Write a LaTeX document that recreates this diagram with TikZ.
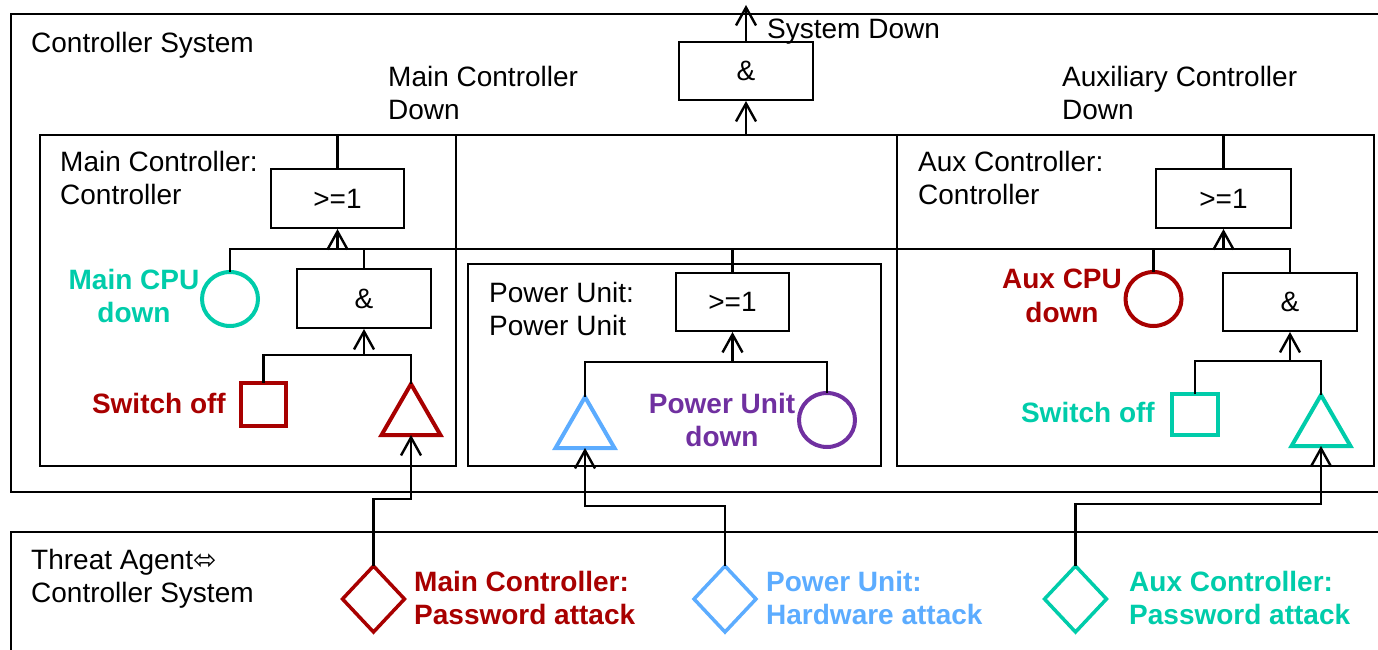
\documentclass[tikz,border=0pt]{standalone}
\usepackage{fontspec}
\setmainfont{Liberation Sans}
\newfontfamily\symfont{DejaVu Sans}
\usetikzlibrary{shapes.geometric,arrows.meta,calc}
\definecolor{dred}{RGB}{168,0,0}
\definecolor{mteal}{RGB}{0,204,170}
\definecolor{lblue}{RGB}{92,172,255}
\definecolor{purp}{RGB}{112,48,160}
\tikzset{
 ln/.style={line width=2.4pt},
 arr/.style={ln,-{Straight Barb[length=18pt,width=20pt]}},
 gate/.style={draw,line width=2pt,rectangle,inner sep=0pt,font=\fontsize{28}{33.5}\selectfont},
 cont/.style={draw,line width=2pt,rectangle,inner sep=0pt},
 txt/.style={inner sep=0pt,anchor=north west,align=left,font=\fontsize{28}{33.5}\selectfont},
 btxt/.style={inner sep=0pt,align=center,font=\fontsize{28}{33.5}\selectfont\bfseries},
 circ/.style={ellipse,draw,line width=4pt,minimum width=56pt,minimum height=54pt,inner sep=0pt,outer sep=0pt},
 sq/.style={rectangle,draw,line width=4pt,inner sep=0pt,outer sep=0pt},
 tri/.style={regular polygon,regular polygon sides=3,draw,line width=4pt,minimum size=68pt,inner sep=0pt,outer sep=0pt},
 dia/.style={diamond,draw,line width=3.5pt,minimum width=62pt,minimum height=66pt,inner sep=0pt,outer sep=0pt},
}
\begin{document}
\begin{tikzpicture}[x=1pt,y=-1pt]
\useasboundingbox (0,0) rectangle (1378,650);
% outer frames
\draw[line width=2pt] (1390,14) -| (11,492) -- (1390,492);
\draw[line width=2pt] (1390,532) -| (11,660);
% containers
\node[cont,minimum width=416pt,minimum height=331pt] (mcbox) at (248,300.5) {};
\node[cont,minimum width=413pt,minimum height=202pt] (pubox) at (674.5,365) {};
\node[cont,minimum width=477pt,minimum height=331pt] (acbox) at (1135.5,300.5) {};
% gates
\node[gate,minimum width=134pt,minimum height=58pt] (topand) at (746,71) {\&};
\node[gate,minimum width=133pt,minimum height=59pt] (mor) at (337.5,198.5) {>=1};
\node[gate,minimum width=135pt,minimum height=59pt] (aor) at (1223.5,198.5) {>=1};
\node[gate,minimum width=134pt,minimum height=59pt] (mand) at (364,298.5) {\&};
\node[gate,minimum width=113pt,minimum height=58pt] (por) at (732.5,302) {>=1};
\node[gate,minimum width=134pt,minimum height=58pt] (aand) at (1290,302) {\&};
% events
\node[circ,draw=mteal] (mcpu) at (230,299) {};
\node[sq,draw=dred,minimum width=45pt,minimum height=43pt] (msw) at (263.5,404.5) {};
\node[tri,draw=dred] (mtri) at (411,418) {};
\node[tri,draw=lblue] (ptri) at (585,431) {};
\node[circ,draw=purp] (pcirc) at (827,420) {};
\node[circ,draw=dred] (acpu) at (1153.5,299) {};
\node[sq,draw=mteal,minimum width=46pt,minimum height=41pt] (asw) at (1195,414.5) {};
\node[tri,draw=mteal] (atri) at (1321,429) {};
\node[dia,draw=dred] (mdia) at (373.5,599) {};
\node[dia,draw=lblue] (pdia) at (725,599) {};
\node[dia,draw=mteal] (adia) at (1075.5,599) {};
% texts
\node[txt] (tcs) at (31,32) {Controller System};
\node[txt] (tmcd) at (388,66) {Main Controller\\Down};
\node[txt] (tsd) at (767,19) {System Down};
\node[txt] (tacd) at (1062,66) {Auxiliary Controller\\Down};
\node[txt] (tmc) at (60,151) {Main Controller:\\Controller};
\node[txt] (tac) at (918,151) {Aux Controller:\\Controller};
\node[txt] (tpu) at (489,282) {Power Unit:\\Power Unit};
\node[txt] (tta) at (31,549) {Threat Agent{\symfont ⬄}\\Controller System};
\node[btxt,anchor=north west,align=left,text=dred] (tmpa) at (414,571) {Main Controller:\\Password attack};
\node[btxt,anchor=north west,align=left,text=lblue] (tppa) at (766,571) {Power Unit:\\Hardware attack};
\node[btxt,anchor=north west,align=left,text=mteal] (tapa) at (1129,571) {Aux Controller:\\Password attack};
\node[btxt,anchor=north,text=mteal] (tmcpu) at (134,269) {Main CPU\\down};
\node[btxt,anchor=north east,text=dred] (tmsw) at (226,393) {Switch off};
\node[btxt,anchor=north,text=purp] (tpcd) at (722,393) {Power Unit\\down};
\node[btxt,anchor=north,text=dred] (tacpu) at (1062,269) {Aux CPU\\down};
\node[btxt,anchor=north east,text=mteal] (tasw) at (1155,402) {Switch off};
% connectors
\coordinate (sysout) at (746,5);
\draw[arr] (topand.north) -- (sysout);
\coordinate (topbus) at (746,135);
\draw[ln] (mor.north) |- (topbus) -| (aor.north);
\draw[arr] (topbus) -- (topand.south);
\coordinate (mbus) at (337.5,249);
\coordinate (abus) at (1223.5,249);
\draw[ln] (mcpu.north) |- (mbus) -| (mand.north);
\draw[arr] (mbus) -- (mor.south);
\draw[ln] (mbus) -- (abus);
\draw[ln] (por.north) -- (por.north |- abus);
\draw[ln] (acpu.north) |- (abus) -| (aand.north);
\draw[arr] (abus) -- (aor.south);
\coordinate (mandin) at (364,355);
\draw[ln] (msw.north) |- (mandin) -| (mtri.corner 1);
\draw[arr] (mandin) -- (mand.south);
\coordinate (porin) at (732.5,362);
\draw[ln] (ptri.corner 1) |- (porin) -| (pcirc.north);
\draw[arr] (porin) -- (por.south);
\coordinate (aandin) at (1290,361);
\draw[ln] (asw.north) |- (aandin) -| (atri.corner 1);
\draw[arr] (aandin) -- (aand.south);
\coordinate (mj) at (411,499);
\coordinate (pj) at (585,506);
\coordinate (aj) at (1321,504);
\draw[arr] (mdia.north) |- (mj) -- (mtri.side 2);
\draw[arr] (pdia.north) |- (pj) -- (ptri.side 2);
\draw[arr] (adia.north) |- (aj) -- (atri.side 2);
\end{tikzpicture}
\end{document}
